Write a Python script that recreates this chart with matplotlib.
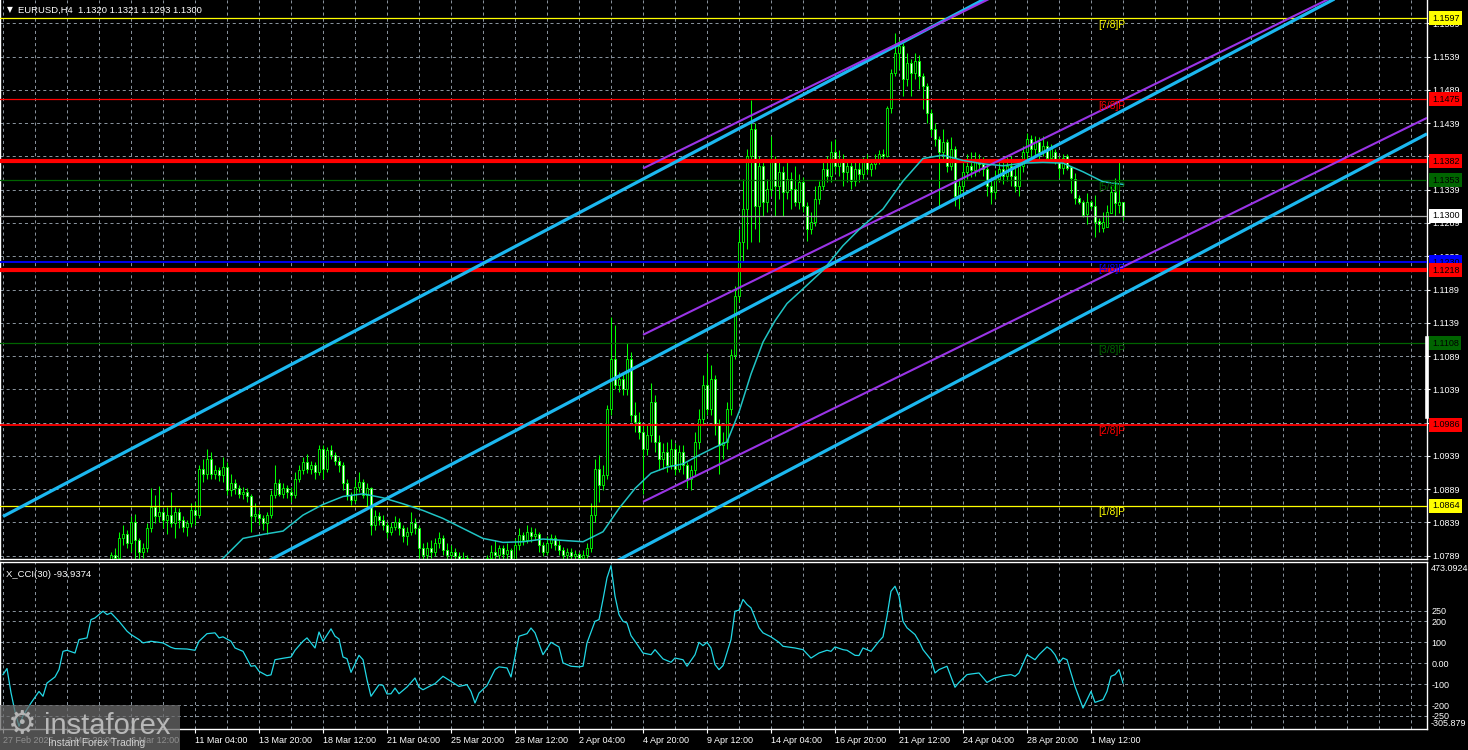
import numpy as np
import matplotlib
matplotlib.use("Agg")
import matplotlib.pyplot as plt
import matplotlib.transforms as mtrans
from matplotlib.collections import LineCollection, PatchCollection
from matplotlib.patches import Rectangle
from matplotlib.lines import Line2D

plt.rcParams['font.family'] = ['Liberation Sans', 'DejaVu Sans']
plt.rcParams['lines.scale_dashes'] = False

# ---------------- data ----------------
first_bar = 27
opens = [
    1.0775, 1.0790, 1.0785, 1.0815, 1.0822, 1.0808, 1.0840, 1.0812, 1.0795, 1.0800,
    1.0830, 1.0862, 1.0848, 1.0855, 1.0842, 1.0850, 1.0838, 1.0855, 1.0842, 1.0832,
    1.0838, 1.0858, 1.0850, 1.0920, 1.0912, 1.0935, 1.0912, 1.0918, 1.0910, 1.0922,
    1.0888, 1.0898, 1.0890, 1.0882, 1.0885, 1.0878, 1.0848, 1.0852, 1.0845, 1.0838,
    1.0850, 1.0880, 1.0898, 1.0882, 1.0890, 1.0885, 1.0880, 1.0905, 1.0918, 1.0930,
    1.0920, 1.0925, 1.0915, 1.0950, 1.0920, 1.0948, 1.0940, 1.0932, 1.0925, 1.0898,
    1.0880, 1.0872, 1.0892, 1.0900, 1.0880, 1.0890, 1.0835, 1.0848, 1.0842, 1.0835,
    1.0825, 1.0832, 1.0840, 1.0830, 1.0818, 1.0825, 1.0838, 1.0830, 1.0800, 1.0790,
    1.0800, 1.0795, 1.0808, 1.0815, 1.0798, 1.0790, 1.0795, 1.0788, 1.0778, 1.0785,
    1.0780, 1.0765, 1.0745, 1.0755, 1.0770, 1.0785, 1.0795, 1.0790, 1.0800, 1.0792,
    1.0798, 1.0782, 1.0805, 1.0820, 1.0812, 1.0825, 1.0818, 1.0822, 1.0805, 1.0795,
    1.0808, 1.0815, 1.0805, 1.0798, 1.0790, 1.0795, 1.0788, 1.0792, 1.0785, 1.0790,
    1.0800, 1.0850, 1.0920, 1.0895, 1.0910, 1.1010, 1.1085, 1.1045, 1.1055, 1.1040,
    1.1085, 1.1000, 1.0990, 1.0975, 1.0950, 1.0970, 1.1020, 1.0960, 1.0935, 1.0945,
    1.0925, 1.0950, 1.0920, 1.0945, 1.0925, 1.0905, 1.0918, 1.0960, 1.0995, 1.1045,
    1.1010, 1.1055, 1.0985, 1.0955, 1.0960, 1.1010, 1.1090, 1.1180, 1.1260, 1.1310,
    1.1390, 1.1430, 1.1315, 1.1375, 1.1320, 1.1340, 1.1385, 1.1345, 1.1365, 1.1335,
    1.1355, 1.1340, 1.1320, 1.1350, 1.1315, 1.1280, 1.1290, 1.1325, 1.1345, 1.1370,
    1.1360, 1.1395, 1.1375, 1.1385, 1.1365, 1.1375, 1.1352, 1.1370, 1.1362, 1.1380,
    1.1370, 1.1378, 1.1385, 1.1392, 1.1390, 1.1462, 1.1515, 1.1545, 1.1555, 1.1505,
    1.1530, 1.1515, 1.1532, 1.1510, 1.1495, 1.1455, 1.1430, 1.1415, 1.1395, 1.1410,
    1.1375, 1.1400, 1.1330, 1.1345, 1.1365, 1.1375, 1.1368, 1.1385, 1.1378, 1.1370,
    1.1345, 1.1335, 1.1355, 1.1370, 1.1360, 1.1375, 1.1360, 1.1345, 1.1375, 1.1395,
    1.1415, 1.1400, 1.1410, 1.1395, 1.1405, 1.1386, 1.1396, 1.1381, 1.1371, 1.1389,
    1.1373, 1.1355, 1.1326, 1.1321, 1.1303, 1.1320, 1.1315, 1.1292, 1.1281, 1.1283,
    1.1304, 1.1335, 1.1316, 1.1320,
]
highs = [
    1.0795, 1.0800, 1.0825, 1.0835, 1.0828, 1.0848, 1.0852, 1.0815, 1.0808, 1.0838,
    1.0890, 1.0880, 1.0893, 1.0860, 1.0862, 1.0885, 1.0862, 1.0860, 1.0848, 1.0842,
    1.0868, 1.0870, 1.0925, 1.0935, 1.0949, 1.0945, 1.0925, 1.0922, 1.0938, 1.0930,
    1.0912, 1.0905, 1.0895, 1.0892, 1.0890, 1.0882, 1.0868, 1.0858, 1.0850, 1.0855,
    1.0888, 1.0925, 1.0905, 1.0898, 1.0895, 1.0892, 1.0915, 1.0925, 1.0938, 1.0942,
    1.0932, 1.0930, 1.0955, 1.0956, 1.0952, 1.0955, 1.0945, 1.0938, 1.0930, 1.0905,
    1.0885, 1.0905, 1.0915, 1.0905, 1.0898, 1.0892, 1.0858, 1.0855, 1.0850, 1.0840,
    1.0840, 1.0848, 1.0845, 1.0835, 1.0832, 1.0855, 1.0845, 1.0835, 1.0808, 1.0810,
    1.0812, 1.0815, 1.0825, 1.0820, 1.0808, 1.0805, 1.0800, 1.0795, 1.0795, 1.0790,
    1.0785, 1.0770, 1.0765, 1.0778, 1.0790, 1.0805, 1.0812, 1.0805, 1.0805, 1.0808,
    1.0800, 1.0815, 1.0830, 1.0825, 1.0835, 1.0832, 1.0830, 1.0825, 1.0810, 1.0818,
    1.0822, 1.0820, 1.0812, 1.0802, 1.0800, 1.0800, 1.0798, 1.0795, 1.0798, 1.0808,
    1.0868, 1.0935, 1.0940, 1.0925, 1.1015, 1.1148, 1.1135, 1.1065, 1.1062, 1.1108,
    1.1095, 1.1020, 1.1005, 1.0985, 1.0985, 1.1048, 1.1030, 1.0970, 1.0958, 1.0960,
    1.0965, 1.0958, 1.0955, 1.0955, 1.0930, 1.0925, 1.0975, 1.1010, 1.1060, 1.1093,
    1.1075, 1.1060, 1.0995, 1.0975, 1.1020, 1.1100, 1.1195, 1.1280, 1.1355, 1.1400,
    1.1474, 1.1440, 1.1390, 1.1385, 1.1355, 1.1420, 1.1390, 1.1385, 1.1375, 1.1385,
    1.1365, 1.1375, 1.1362, 1.1358, 1.1320, 1.1305, 1.1345, 1.1352, 1.1382, 1.1390,
    1.1412, 1.1415, 1.1398, 1.1392, 1.1385, 1.1382, 1.1380, 1.1385, 1.1388, 1.1392,
    1.1385, 1.1392, 1.1398, 1.1400, 1.1465, 1.1520, 1.1574, 1.1565, 1.1560, 1.1545,
    1.1535, 1.1545, 1.1542, 1.1515, 1.1500, 1.1460, 1.1440, 1.1420, 1.1430, 1.1415,
    1.1418, 1.1405, 1.1355, 1.1385, 1.1392, 1.1395, 1.1395, 1.1392, 1.1388, 1.1378,
    1.1358, 1.1368, 1.1385, 1.1382, 1.1388, 1.1390, 1.1372, 1.1385, 1.1405, 1.1425,
    1.1422, 1.1420, 1.1418, 1.1420, 1.1412, 1.1408, 1.1400, 1.1389, 1.1392, 1.1392,
    1.1375, 1.1364, 1.1331, 1.1324, 1.1334, 1.1324, 1.1331, 1.1296, 1.1305, 1.1316,
    1.1344, 1.1356, 1.1381, 1.1321,
]
lows = [
    1.0770, 1.0775, 1.0780, 1.0805, 1.0800, 1.0795, 1.0780, 1.0782, 1.0785, 1.0795,
    1.0825, 1.0838, 1.0840, 1.0830, 1.0822, 1.0832, 1.0815, 1.0830, 1.0825, 1.0818,
    1.0832, 1.0835, 1.0845, 1.0900, 1.0905, 1.0905, 1.0905, 1.0902, 1.0900, 1.0880,
    1.0878, 1.0882, 1.0875, 1.0874, 1.0870, 1.0824, 1.0840, 1.0835, 1.0828, 1.0822,
    1.0845, 1.0875, 1.0878, 1.0875, 1.0876, 1.0870, 1.0876, 1.0900, 1.0912, 1.0914,
    1.0912, 1.0905, 1.0910, 1.0905, 1.0915, 1.0935, 1.0925, 1.0915, 1.0888, 1.0872,
    1.0865, 1.0868, 1.0885, 1.0875, 1.0860, 1.0820, 1.0828, 1.0835, 1.0828, 1.0815,
    1.0820, 1.0828, 1.0820, 1.0810, 1.0805, 1.0820, 1.0822, 1.0785, 1.0775, 1.0780,
    1.0785, 1.0788, 1.0800, 1.0790, 1.0782, 1.0780, 1.0778, 1.0770, 1.0772, 1.0770,
    1.0755, 1.0733, 1.0740, 1.0750, 1.0765, 1.0778, 1.0782, 1.0780, 1.0782, 1.0778,
    1.0775, 1.0778, 1.0798, 1.0805, 1.0808, 1.0810, 1.0812, 1.0795, 1.0788, 1.0790,
    1.0800, 1.0798, 1.0790, 1.0782, 1.0780, 1.0778, 1.0780, 1.0778, 1.0778, 1.0785,
    1.0795, 1.0840, 1.0870, 1.0888, 1.0905, 1.1000, 1.1040, 1.1035, 1.1030, 1.1030,
    1.0990, 1.0975, 1.0965, 1.0882, 1.0940, 1.0960, 1.0945, 1.0918, 1.0920, 1.0915,
    1.0920, 1.0910, 1.0915, 1.0912, 1.0890, 1.0888, 1.0910, 1.0950, 1.0985, 1.1000,
    1.1000, 1.0970, 1.0912, 1.0935, 1.0950, 1.1000, 1.1085, 1.1170, 1.1230, 1.1250,
    1.1260, 1.1280, 1.1260, 1.1300, 1.1305, 1.1330, 1.1300, 1.1325, 1.1300, 1.1325,
    1.1310, 1.1315, 1.1310, 1.1305, 1.1262, 1.1272, 1.1285, 1.1318, 1.1338, 1.1350,
    1.1350, 1.1365, 1.1360, 1.1345, 1.1350, 1.1340, 1.1345, 1.1350, 1.1355, 1.1362,
    1.1360, 1.1370, 1.1378, 1.1382, 1.1388, 1.1455, 1.1510, 1.1520, 1.1480, 1.1495,
    1.1480, 1.1505, 1.1490, 1.1460, 1.1440, 1.1420, 1.1405, 1.1312, 1.1385, 1.1365,
    1.1368, 1.1315, 1.1310, 1.1335, 1.1355, 1.1358, 1.1360, 1.1365, 1.1360, 1.1330,
    1.1318, 1.1325, 1.1350, 1.1348, 1.1352, 1.1345, 1.1335, 1.1330, 1.1365, 1.1385,
    1.1388, 1.1390, 1.1385, 1.1390, 1.1380, 1.1382, 1.1378, 1.1356, 1.1362, 1.1368,
    1.1334, 1.1318, 1.1318, 1.1298, 1.1288, 1.1310, 1.1268, 1.1276, 1.1276, 1.1283,
    1.1304, 1.1300, 1.1304, 1.1293,
]
closes = [
    1.0790, 1.0785, 1.0815, 1.0822, 1.0808, 1.0840, 1.0812, 1.0795, 1.0800, 1.0830,
    1.0862, 1.0848, 1.0855, 1.0842, 1.0850, 1.0838, 1.0855, 1.0842, 1.0832, 1.0838,
    1.0858, 1.0850, 1.0920, 1.0912, 1.0935, 1.0912, 1.0918, 1.0910, 1.0922, 1.0888,
    1.0898, 1.0890, 1.0882, 1.0885, 1.0878, 1.0848, 1.0852, 1.0845, 1.0838, 1.0850,
    1.0880, 1.0898, 1.0882, 1.0890, 1.0885, 1.0880, 1.0905, 1.0918, 1.0930, 1.0920,
    1.0925, 1.0915, 1.0950, 1.0920, 1.0948, 1.0940, 1.0932, 1.0925, 1.0898, 1.0880,
    1.0872, 1.0892, 1.0900, 1.0880, 1.0890, 1.0835, 1.0848, 1.0842, 1.0835, 1.0825,
    1.0832, 1.0840, 1.0830, 1.0818, 1.0825, 1.0838, 1.0830, 1.0800, 1.0790, 1.0800,
    1.0795, 1.0808, 1.0815, 1.0798, 1.0790, 1.0795, 1.0788, 1.0778, 1.0785, 1.0780,
    1.0765, 1.0745, 1.0755, 1.0770, 1.0785, 1.0795, 1.0790, 1.0800, 1.0792, 1.0798,
    1.0782, 1.0805, 1.0820, 1.0812, 1.0825, 1.0818, 1.0822, 1.0805, 1.0795, 1.0808,
    1.0815, 1.0805, 1.0798, 1.0790, 1.0795, 1.0788, 1.0792, 1.0785, 1.0790, 1.0800,
    1.0850, 1.0920, 1.0895, 1.0910, 1.1010, 1.1085, 1.1045, 1.1055, 1.1040, 1.1085,
    1.1000, 1.0990, 1.0975, 1.0950, 1.0970, 1.1020, 1.0960, 1.0935, 1.0945, 1.0925,
    1.0950, 1.0920, 1.0945, 1.0925, 1.0905, 1.0918, 1.0960, 1.0995, 1.1045, 1.1010,
    1.1055, 1.0985, 1.0955, 1.0960, 1.1010, 1.1090, 1.1180, 1.1260, 1.1310, 1.1390,
    1.1430, 1.1315, 1.1375, 1.1320, 1.1340, 1.1385, 1.1345, 1.1365, 1.1335, 1.1355,
    1.1340, 1.1320, 1.1350, 1.1315, 1.1280, 1.1290, 1.1325, 1.1345, 1.1370, 1.1360,
    1.1395, 1.1375, 1.1385, 1.1365, 1.1375, 1.1352, 1.1370, 1.1362, 1.1380, 1.1370,
    1.1378, 1.1385, 1.1392, 1.1390, 1.1462, 1.1515, 1.1545, 1.1555, 1.1505, 1.1530,
    1.1515, 1.1532, 1.1510, 1.1495, 1.1455, 1.1430, 1.1415, 1.1395, 1.1410, 1.1375,
    1.1400, 1.1330, 1.1345, 1.1365, 1.1375, 1.1368, 1.1385, 1.1378, 1.1370, 1.1345,
    1.1335, 1.1355, 1.1370, 1.1360, 1.1375, 1.1360, 1.1345, 1.1375, 1.1395, 1.1415,
    1.1400, 1.1410, 1.1395, 1.1405, 1.1386, 1.1401, 1.1381, 1.1371, 1.1386, 1.1371,
    1.1356, 1.1326, 1.1321, 1.1301, 1.1321, 1.1314, 1.1291, 1.1288, 1.1291, 1.1305,
    1.1336, 1.1319, 1.1320, 1.1300,
]

ma_bars = [52, 55, 60, 65, 70, 75, 80, 85, 90, 95,
           100, 105, 110, 115, 120, 125, 130, 135, 140, 145,
           150, 154, 158, 162, 166, 170, 174, 178, 181, 184,
           187, 190, 193, 196, 200, 205, 210, 215, 220, 225,
           230, 235, 240, 245, 250, 255, 260, 265, 270, 275, 280]
ma_vals = [1.0772, 1.0785, 1.0815, 1.0821, 1.0826, 1.0850, 1.0866, 1.0878, 1.0882, 1.0876,
           1.0867, 1.0857, 1.0845, 1.0830, 1.0815, 1.0809, 1.0810, 1.0814, 1.0812, 1.0810,
           1.0825, 1.0860, 1.0890, 1.0913, 1.0922, 1.0927, 1.0940, 1.0952, 1.0960, 1.1005,
           1.1062, 1.1110, 1.1142, 1.1168, 1.1190, 1.1218, 1.1255, 1.1285, 1.1310, 1.1352,
           1.1386, 1.1391, 1.1383, 1.1378, 1.1375, 1.1379, 1.1380, 1.1379, 1.1366, 1.1351, 1.1347]

cci_bars = [0, 1, 2, 3, 4, 5, 7, 9, 10, 11,
            13, 14, 15, 16, 18, 19, 21, 22, 23, 25,
            26, 27, 29, 31, 32, 34, 35, 37, 40, 42,
            43, 46, 48, 49, 51, 53, 54, 55, 57, 58,
            60, 62, 63, 64, 66, 67, 68, 70, 72, 73,
            75, 76, 77, 78, 79, 80, 82, 83, 84, 85,
            86, 87, 89, 90, 91, 92, 94, 95, 96, 97,
            98, 99, 101, 103, 104, 105, 107, 108, 110, 112,
            114, 116, 117, 118, 119, 121, 123, 124, 126, 127,
            129, 131, 132, 133, 135, 137, 139, 140, 142, 144,
            145, 146, 148, 149, 150, 151, 152, 153, 154, 155,
            156, 157, 158, 160, 162, 163, 165, 167, 168, 170,
            171, 173, 174, 175, 176, 177, 178, 179, 180, 182,
            183, 184, 185, 186, 187, 189, 190, 192, 194, 195,
            198, 200, 202, 204, 206, 207, 208, 210, 211, 213,
            214, 215, 217, 219, 220, 221, 222, 223, 224, 225,
            226, 228, 229, 230, 232, 233, 234, 236, 238, 239,
            241, 242, 244, 246, 248, 250, 252, 253, 254, 256,
            258, 259, 261, 262, 263, 264, 265, 266, 268, 270,
            272, 273, 275, 276, 277, 278, 279, 280]
cci_vals = [-54, -25, -140, -230, -300, -250, -189, -134, -157, -94,
            -65, -30, 57, 62, 49, 113, 121, 208, 216, 248,
            232, 240, 200, 153, 137, 113, 97, 105, 97, 76,
            70, 68, 62, 105, 141, 145, 121, 126, 105, 73,
            57, -14, -11, -38, -59, -55, 17, 24, 30, 62,
            105, 121, 97, 73, 149, 105, 164, 129, 116, 30,
            22, -43, 38, 17, -78, -157, -102, -105, -146, -145,
            -118, -145, -113, -70, -114, -126, -106, -97, -62, -86,
            -110, -102, -134, -189, -142, -106, -30, -17, -22, -65,
            129, 141, 168, 145, 41, 100, 78, 2, -14, -17,
            -14, 97, 200, 208, 304, 407, 465, 320, 232, 200,
            192, 132, 105, 49, 41, 65, 21, 5, 25, 17,
            -14, 41, 100, 84, 100, 73, -6, -30, -11, 113,
            248, 253, 304, 280, 264, 169, 145, 126, 100, 81,
            73, 65, 25, 49, 62, 57, 78, 65, 62, 38,
            37, 73, 57, 105, 126, 224, 343, 367, 320, 200,
            169, 137, 105, 65, 17, -46, -30, -14, -114, -91,
            -54, -51, -46, -91, -70, -59, -54, -62, -46, 41,
            17, 41, 78, 65, 41, 2, 25, 17, -110, -213,
            -134, -186, -173, -134, -62, -54, -30, -94]

# channel objects (bar, price) end points
cyan_x = [0, 356]
cyan_upper = [1.0848, 1.1976]
cyan_middle = [1.0571, 1.1699]
cyan_lower = [1.0295, 1.1423]
purple_x = [160, 356]
purple_upper = [1.1371, 1.1948]
purple_middle = [1.1121, 1.1698]
purple_lower = [1.0870, 1.1447]

level_prices = [1.1597, 1.1475, 1.1382, 1.1353, 1.1300, 1.1230, 1.1218, 1.1108, 1.0986, 1.0864]
level_names = ['[7/8]P', '[6/8]P', '', '[5/8]P', '', '[4/8]P', '', '[3/8]P', '[2/8]P', '[1/8]P']

price_ticks = [1.0789, 1.0839, 1.0889, 1.0939, 1.0989, 1.1039, 1.1089, 1.1139, 1.1189,
               1.1239, 1.1289, 1.1339, 1.1389, 1.1439, 1.1489, 1.1539, 1.1589]
# scale labels hidden behind the coloured level boxes in the terminal
hidden_ticks = [1.0989, 1.1389]
cci_ticks = [250, 200, 100, 0, -100, -200, -250]
cci_tick_labels = ['250', '200', '100', '0.00', '-100', '-200', '-250']
cci_max, cci_min = 473.0924, -305.879

time_labels = ['27 Feb 2025', '3 Mar 20:00', '6 Mar 12:00', '11 Mar 04:00', '13 Mar 20:00',
               '18 Mar 12:00', '21 Mar 04:00', '25 Mar 20:00', '28 Mar 12:00', '2 Apr 04:00',
               '4 Apr 20:00', '9 Apr 12:00', '14 Apr 04:00', '16 Apr 20:00', '21 Apr 12:00',
               '24 Apr 04:00', '28 Apr 20:00', '1 May 12:00']

header = 'EURUSD,H4  1.1320 1.1321 1.1293 1.1300'
cci_title = 'X_CCI(30) -93,9374'

# ---------------- styles / layout ----------------
W, H = 1468, 750
BG = 'black'
GRID = '#8c96a0'
LIME = '#00ff00'
CYAN = '#1cb8f0'
PURPLE = '#9a34e6'
MA_C = '#20c4c4'
CCI_C = '#22d8e6'
DASH = (0, (2.2, 2.2))

level_colors = ['#ffff00', '#ff0000', '#ff0000', '#006400', '#a8a8a8', '#0000ff',
                '#ff0000', '#006400', '#ff0000', '#ffff00']
level_widths = [0.9, 0.9, 3.0, 0.9, 0.9, 1.3, 3.0, 0.9, 1.3, 0.9]
label_bg = ['#ffff00', '#ff0000', '#ff0000', '#006400', '#ffffff', '#0000ff',
            '#ff0000', '#006400', '#ff0000', '#ffff00']

px_per_price = 6654.0
plot_right = 1427
main_bot = 559
cci_top, cci_bot = 562, 729

fig = plt.figure(figsize=(W / 100, H / 100), dpi=100)
fig.patch.set_facecolor(BG)

ax = fig.add_axes([0, 1 - main_bot / H, plot_right / W, main_bot / H])
cax = fig.add_axes([0, 1 - cci_bot / H, plot_right / W, (cci_bot - cci_top) / H])

for a in (ax, cax):
    a.set_facecolor(BG)
    for s in a.spines.values():
        s.set_color('white')
        s.set_linewidth(1.0)
    a.set_xlim(-0.75, 356.0)
ax.spines['top'].set_visible(False)

# price scale
ax.set_ylim(1.0789 - 3.3 / px_per_price, 1.0789 + 555.7 / px_per_price)
cci_ppu = 0.21
cax.set_ylim(-(729 - 663.3) / cci_ppu, (663.3 - 562) / cci_ppu)

# grid
grid_bars = np.arange(0, 357, 8)
for a in (ax, cax):
    a.vlines(grid_bars, 0, 1, transform=a.get_xaxis_transform(), colors=GRID,
             linestyles=DASH, linewidth=0.7, zorder=0.5)
ax.hlines(price_ticks, 0, 1, transform=ax.get_yaxis_transform(), colors=GRID,
          linestyles=DASH, linewidth=0.7, zorder=0.5)
cax.hlines(cci_ticks, 0, 1, transform=cax.get_yaxis_transform(), colors=GRID,
           linestyles=DASH, linewidth=0.7, zorder=0.5)

# candles
bars = np.arange(first_bar, first_bar + len(closes))
o = np.array(opens); h = np.array(highs); l = np.array(lows); c = np.array(closes)
wicks = [[(b, lo), (b, hi)] for b, lo, hi in zip(bars, l, h)]
ax.add_collection(LineCollection(wicks, colors=LIME, linewidths=0.75, zorder=2))
rects, fcs = [], []
bw = 0.74
for b, oo, cc in zip(bars, o, c):
    lo_, hi_ = min(oo, cc), max(oo, cc)
    hgt = max(hi_ - lo_, 0.6 / px_per_price)
    rects.append(Rectangle((b - bw / 2, lo_), bw, hgt))
    fcs.append('black' if cc >= oo else 'white')
ax.add_collection(PatchCollection(rects, facecolors=fcs, edgecolors=LIME,
                                  linewidths=0.6, zorder=3))

# horizontal levels
for p, col, lw in zip(level_prices, level_colors, level_widths):
    ax.axhline(p, color=col, linewidth=lw, zorder=4)

# channels
for ys in (cyan_upper, cyan_middle, cyan_lower):
    ax.plot(cyan_x, ys, color=CYAN, linewidth=2.3, zorder=5, solid_capstyle='butt')
for ys in (purple_upper, purple_middle, purple_lower):
    ax.plot(purple_x, ys, color=PURPLE, linewidth=1.5, zorder=5, solid_capstyle='butt')

# moving average
ax.plot(ma_bars, ma_vals, color=MA_C, linewidth=1.1, zorder=6)

# Murrey labels
for p, name, col in zip(level_prices, level_names, level_colors):
    if name:
        ax.text(273.75, p - 1.5 / px_per_price, name, color=col, fontsize=7.4,
                va='top', ha='left', zorder=7)

# right price axis
ax.yaxis.tick_right()
ax.set_yticks(price_ticks)
ax.set_yticklabels(['' if t in hidden_ticks else f'{t:.4f}' for t in price_ticks])
ax.tick_params(axis='y', colors='white', labelsize=6.5, length=2, pad=2, width=0.8)
ax.tick_params(axis='x', bottom=False, labelbottom=False)

blend = mtrans.blended_transform_factory(ax.transAxes, ax.transData)
for p, bg in zip(level_prices, label_bg):
    ax.text(1 + 5 / plot_right, p, f'{p:.4f}', transform=blend, fontsize=6.5,
            color='black', va='center', ha='left', clip_on=False, zorder=10,
            bbox=dict(boxstyle='square,pad=0.28', fc=bg, ec='none'))
# scroll marker on the price scale
ax.add_line(Line2D([1.0, 1.0], [1.0997, 1.1116], transform=blend, color='white',
                   linewidth=2.6, clip_on=False, zorder=9))

# CCI panel
cax.plot(cci_bars, cci_vals, color=CCI_C, linewidth=0.9, zorder=3)
cax.yaxis.tick_right()
cax.set_yticks(cci_ticks)
cax.set_yticklabels(cci_tick_labels)
cax.tick_params(axis='y', colors='white', labelsize=6.5, length=0, pad=3)
cblend = mtrans.blended_transform_factory(cax.transAxes, cax.transData)
cax.text(1 + 4 / plot_right, cci_max, f'{cci_max:.4f}', transform=cblend, fontsize=6.5,
         color='white', va='top', ha='left', clip_on=False)
cax.text(1 + 4 / plot_right, cci_min, f'{cci_min:.3f}', transform=cblend, fontsize=6.5,
         color='white', va='bottom', ha='left', clip_on=False)
cax.text(6 / plot_right, 0.955, cci_title, transform=cax.transAxes, fontsize=6.8,
         color='white', va='top', ha='left')

# time axis
cax.set_xticks(np.arange(0, 16 * len(time_labels), 16))
cax.set_xticklabels(time_labels)
for lbl in cax.get_xticklabels():
    lbl.set_horizontalalignment('left')
cax.tick_params(axis='x', colors='white', labelsize=6.5, length=3, pad=2, width=0.8)

# header
fig.text(7 / W, 1 - 10 / H, '\u25bc', color='white', fontsize=5.5,
         va='center', ha='left', family=['DejaVu Sans'])
fig.text(18 / W, 1 - 10 / H, header, color='white', fontsize=6.8, va='center', ha='left')

# watermark
fig.add_artist(Rectangle((0, 0), 180 / W, 45 / H, transform=fig.transFigure,
                         facecolor='#6a6a6a', alpha=0.75, edgecolor='none', zorder=20))
fig.text(22 / W, 1 - 724 / H, '\u2699', color='#b4b4b4', fontsize=23, va='center',
         ha='center', family=['DejaVu Sans'], zorder=21)
fig.text(44 / W, 1 - 734 / H, 'instaforex', color='#b8b8b8', fontsize=21,
         va='baseline', ha='left', zorder=21)
fig.text(48 / W, 1 - 743.5 / H, 'Instant Forex Trading', color='#d0d0d0', fontsize=7.4,
         va='center', ha='left', zorder=21)

fig.savefig('out.png', dpi=100, facecolor=BG)
